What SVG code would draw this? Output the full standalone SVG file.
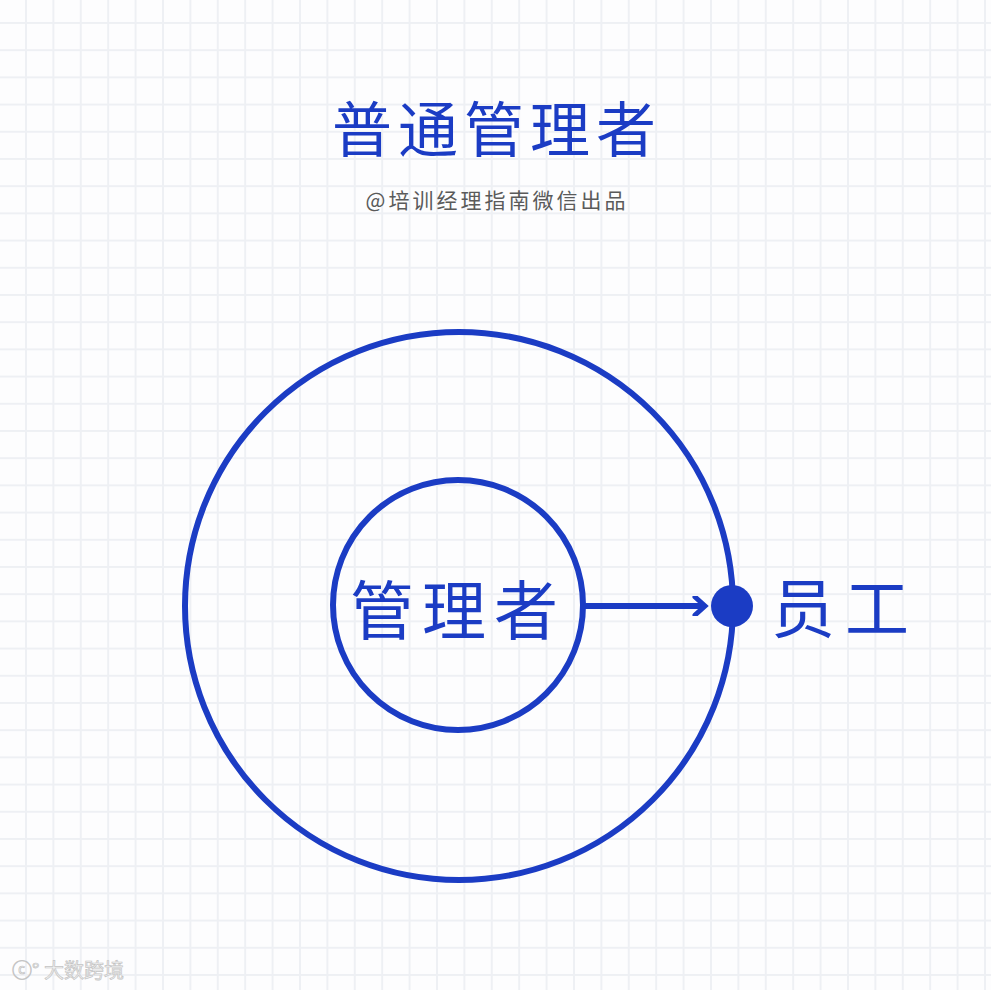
<svg xmlns="http://www.w3.org/2000/svg" width="991" height="990" viewBox="0 0 991 990">
<defs>
<pattern id="grid" x="25" y="22" width="27.4" height="27.2" patternUnits="userSpaceOnUse">
<path d="M1 0V27.2M0 1H27.4" fill="none" stroke="#eef0f4" stroke-width="2"/>
</pattern>
<marker id="chev" markerWidth="20" markerHeight="20" refX="14" refY="10" orient="auto" markerUnits="userSpaceOnUse">
<path d="M4 1 L14 10 L4 19" fill="none" stroke="#1b3cc4" stroke-width="5" stroke-linecap="round"/>
</marker>
<style>
.ring{fill:none;stroke:#1b3cc4;stroke-width:6}
.hand{font-family:"Noto Sans CJK SC","Noto Sans CJK JP",sans-serif;fill:#1b3cc4;text-anchor:middle}
.sub{font-family:"Noto Sans CJK SC",sans-serif;fill:#5a5a5a;text-anchor:middle}
</style>
</defs>
<rect width="991" height="990" fill="#fdfdfe"/>
<rect width="991" height="990" fill="url(#grid)"/>
<g id="title">
<text class="hand" x="497" y="152" font-size="60" letter-spacing="6">普通管理者</text>
<text class="sub" x="497" y="208" font-size="21" letter-spacing="3">@培训经理指南微信出品</text>
</g>
<g id="outer">
<circle class="ring" cx="459" cy="606" r="274"/>
</g>
<g id="inner">
<circle class="ring" cx="458" cy="605" r="125"/>
<text class="hand" x="458" y="634" font-size="64" letter-spacing="8">管理者</text>
</g>
<g id="connectors">
<line x1="585" y1="606" x2="705" y2="606" stroke="#1b3cc4" stroke-width="6" marker-end="url(#chev)"/>
</g>
<g id="employee">
<circle cx="732" cy="606" r="21" fill="#1b3cc4"/>
<text class="hand" x="803" y="632" font-size="64">员</text>
<text class="hand" x="877" y="632" font-size="64">工</text>
</g>
<g id="watermark">
<text x="12" y="978" font-family="Noto Sans CJK SC,sans-serif" font-size="20" fill="#f2f2f2" stroke="#c4c4c4" stroke-width="0.7">ⓒ° 大数跨境</text>
</g>
</svg>
